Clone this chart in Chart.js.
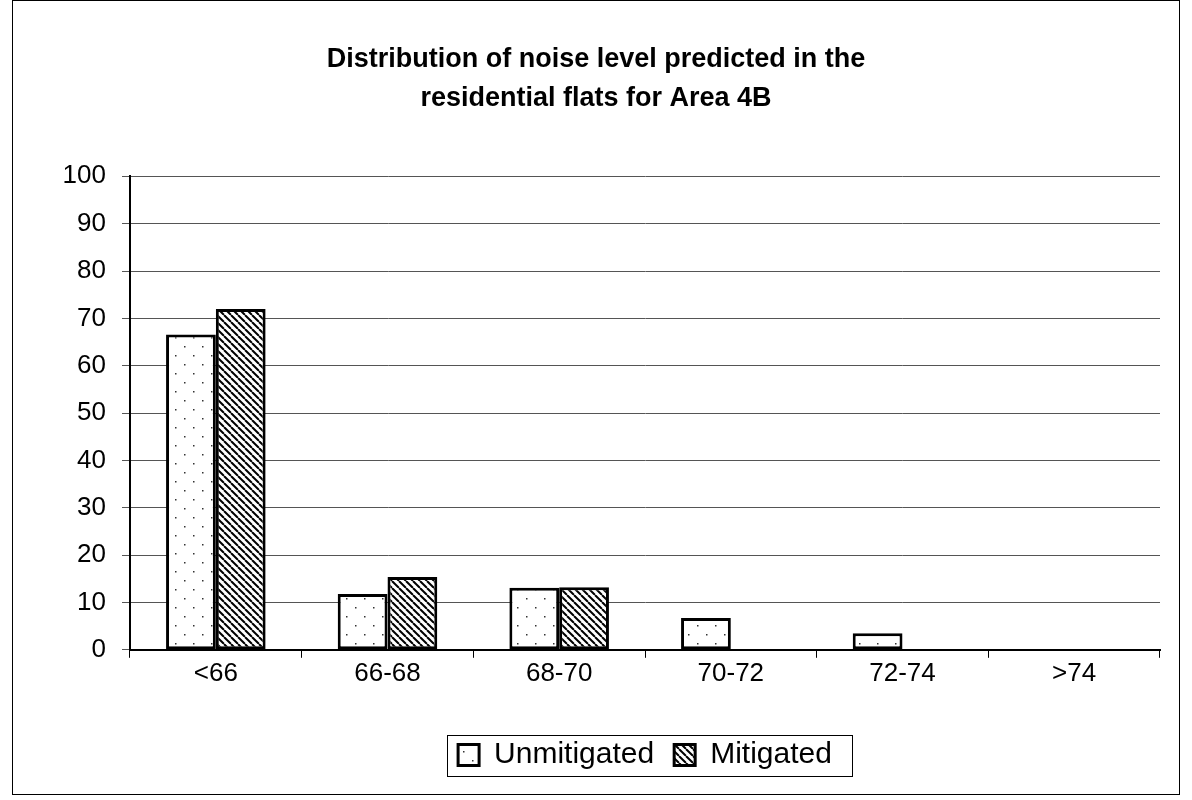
<!DOCTYPE html>
<html>
<head>
<meta charset="utf-8">
<script src="https://cdn.jsdelivr.net/npm/chart.js@4.4.1/dist/chart.umd.min.js"></script>
<style>
    html, body { margin: 0; padding: 0; background: #fff; }
    #wrap { width: 1192px; height: 800px; position: relative; }
</style>
</head>
<body>
<div id="wrap"><canvas id="noiseChart" width="1192" height="800"></canvas></div>
<script>
/* ================= DATA ================= */
const categories = ["<66", "66-68", "68-70", "70-72", "72-74", ">74"];
const unmitigated = [66.6, 11.8, 13.1, 6.7, 3.5, 0];
const mitigated = [72.0, 15.4, 13.2, 0, 0, 0];
const titleLines = ["Distribution of noise level predicted in the", "residential flats for Area 4B"];

const FONT = "'Liberation Sans', Arial, sans-serif";

/* ================= PATTERNS ================= */
function dotPattern() {
    const c = document.createElement("canvas");
    c.width = 18; c.height = 18;
    const g = c.getContext("2d");
    g.fillStyle = "#fff";
    g.fillRect(0, 0, 18, 18);
    g.fillStyle = "#333";
    g.fillRect(4, 4, 1.5, 1.5);
    g.fillRect(13, 13, 1.5, 1.5);
    return g.createPattern(c, "repeat");
}

function hatchPattern() {
    const s = 7;
    const c = document.createElement("canvas");
    c.width = s; c.height = s;
    const g = c.getContext("2d");
    g.fillStyle = "#fff";
    g.fillRect(0, 0, s, s);
    g.strokeStyle = "#000";
    g.lineWidth = 2;
    for (let k = -1; k <= 1; k++) {
        g.beginPath();
        g.moveTo(k * s, 0);
        g.lineTo(k * s + s, s);
        g.stroke();
    }
    return g.createPattern(c, "repeat");
}

/* ================= FRAME + LEGEND BOX ================= */
const framePlugin = {
    id: "frame",
    afterDraw(chart) {
        const ctx = chart.ctx;
        ctx.save();
        ctx.strokeStyle = "#000";
        ctx.lineWidth = 1;
        ctx.strokeRect(12.5, 0.5, 1167, 794);

        const boxes = chart.legend.legendHitBoxes;
        if (boxes && boxes.length) {
            const l = Math.min(...boxes.map(b => b.left)) - 11;
            const r = Math.max(...boxes.map(b => b.left + b.width)) + 20;
            const t = Math.min(...boxes.map(b => b.top)) - 5;
            const bt = Math.max(...boxes.map(b => b.top + b.height)) + 6;
            ctx.strokeRect(Math.round(l) + 0.5, Math.round(t) + 0.5, Math.round(r - l), Math.round(bt - t));
        }
        ctx.restore();
    }
};

/* ================= CHART ================= */
new Chart(document.getElementById("noiseChart"), {
    type: "bar",
    data: {
        labels: categories,
        datasets: [
            {
                label: "Unmitigated",
                data: unmitigated,
                backgroundColor: dotPattern(),
                borderColor: "#000",
                borderWidth: 3,
                borderSkipped: false
            },
            {
                label: "Mitigated",
                data: mitigated,
                backgroundColor: hatchPattern(),
                borderColor: "#000",
                borderWidth: 3,
                borderSkipped: false
            }
        ]
    },
    options: {
        responsive: false,
        animation: false,
        layout: { padding: { left: 32, right: 32, top: 30, bottom: 20 } },
        datasets: { bar: { categoryPercentage: 0.58, barPercentage: 1.0 } },
        plugins: {
            title: {
                display: true,
                text: titleLines,
                color: "#000",
                font: { family: FONT, size: 27, weight: "bold", lineHeight: 1.45 },
                padding: { top: 10, bottom: 58 }
            },
            legend: {
                position: "bottom",
                fullSize: false,
                labels: {
                    color: "#000",
                    font: { family: FONT, size: 30 },
                    boxWidth: 21,
                    boxHeight: 21,
                    padding: 20
                }
            },
            tooltip: { enabled: false }
        },
        scales: {
            x: {
                grid: { display: true, drawOnChartArea: false, offset: true, color: "#000", tickLength: 8, lineWidth: 1 },
                border: { color: "#000", width: 2 },
                ticks: { color: "#000", font: { family: FONT, size: 26 }, padding: 0 },
                afterFit: scale => { scale.height += 31; }
            },
            y: {
                min: 0,
                max: 100,
                ticks: { stepSize: 10, color: "#000", font: { family: FONT, size: 26 }, padding: 16 },
                grid: { color: "#555", lineWidth: 1, tickLength: 8 },
                border: { color: "#000", width: 2 },
                afterFit: scale => { scale.width = 98; }
            }
        }
    },
    plugins: [framePlugin]
});
</script>
</body>
</html>
